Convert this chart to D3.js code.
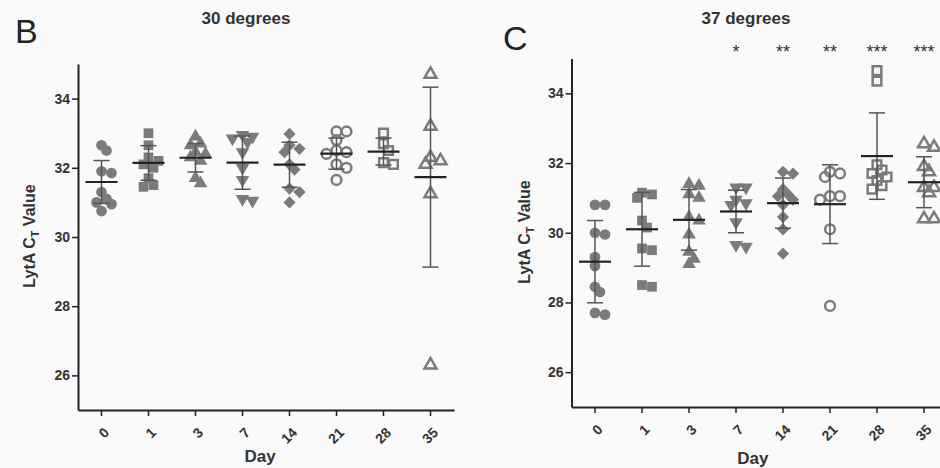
<!DOCTYPE html>
<html>
<head>
<meta charset="utf-8">
<script src="https://cdn.jsdelivr.net/npm/d3@7"></script>
<style>
  body { margin: 0; background: #fafafa; }
  svg { display: block; font-family: "Liberation Sans", Arial, sans-serif; }
</style>
</head>
<body>
<svg id="chart"></svg>
<script>
// values
const days = ["0", "1", "3", "7", "14", "21", "28", "35"];

// 30 degrees, CT values per day
const ct30 = [
  [32.65, 32.5, 31.9, 31.85, 31.3, 31.1, 31.0, 30.95, 30.75],
  [33.0, 32.65, 32.3, 32.2, 32.1, 32.0, 31.7, 31.5, 31.45],
  [32.9, 32.7, 32.65, 32.45, 32.4, 32.3, 32.2, 31.7, 31.55],
  [32.95, 32.9, 32.85, 32.75, 32.45, 32.0, 31.65, 31.1, 31.05],
  [32.98, 32.65, 32.55, 32.45, 32.1, 31.95, 31.4, 31.3, 31.0],
  [33.05, 33.05, 32.8, 32.5, 32.45, 32.4, 32.1, 32.0, 31.65],
  [33.0, 32.7, 32.5, 32.15, 32.1],
  [34.7, 33.2, 32.3, 32.2, 32.1, 31.25, 26.3]
];
const mean30 = [31.59, 32.14, 32.29, 32.15, 32.09, 32.41, 32.47, 31.73];
const sd30 = [0.62, 0.5, 0.41, 0.77, 0.65, 0.45, 0.39, 2.6];

// 37 degrees
const ct37 = [
  [30.8, 30.8, 30.0, 29.95, 29.3, 29.05, 28.45, 28.3, 27.7, 27.65],
  [31.15, 31.1, 31.0, 30.35, 30.15, 29.55, 29.5, 28.5, 28.45],
  [31.4, 31.35, 31.1, 31.0, 30.45, 30.35, 29.95, 29.45, 29.25, 29.1],
  [31.3, 31.3, 30.95, 30.85, 30.8, 30.3, 29.65, 29.6],
  [31.75, 31.7, 31.25, 31.1, 31.05, 30.95, 30.8, 30.45, 30.1, 29.4],
  [31.75, 31.7, 31.6, 31.05, 31.05, 30.95, 30.1, 27.9],
  [34.65, 34.35, 31.95, 31.8, 31.7, 31.6, 31.5, 31.35, 31.25],
  [32.55, 32.45, 31.9, 31.75, 31.3, 31.3, 31.15, 30.4, 30.4]
];
const mean37 = [29.17, 30.1, 30.37, 30.61, 30.85, 30.82, 32.2, 31.45];
const sd37 = [1.18, 1.06, 0.87, 0.61, 0.72, 1.13, 1.24, 0.73];
const stars37 = ["", "", "", "*", "**", "**", "***", "***"];

const yTicks = [26, 28, 30, 32, 34];

const width = 940, height = 468;
const grey = "#7b7b7b";

const svg = d3.select("#chart").attr("width", width).attr("height", height);

// marker per day column
const shapes = [
  { type: d3.symbolCircle, fill: true, rot: 0, size: 90 },
  { type: d3.symbolSquare, fill: true, rot: 0, size: 95 },
  { type: d3.symbolTriangle, fill: true, rot: 0, size: 80 },
  { type: d3.symbolTriangle, fill: true, rot: 180, size: 80 },
  { type: d3.symbolSquare, fill: true, rot: 45, size: 75 },
  { type: d3.symbolCircle, fill: false, rot: 0, size: 75 },
  { type: d3.symbolSquare, fill: false, rot: 0, size: 75 },
  { type: d3.symbolTriangle, fill: false, rot: 0, size: 62 }
];

// simple spread so points with close values don't sit on top of each other
function spread(vals, y, step, minD) {
  const order = vals.map((v, i) => i).sort((a, b) => vals[b] - vals[a]);
  const placed = [];
  const off = new Array(vals.length).fill(0);
  order.forEach(i => {
    const py = y(vals[i]);
    const cands = [0, step, -step, 2 * step, -2 * step, 3 * step, -3 * step];
    for (const c of cands) {
      const ok = placed.every(p => Math.hypot(p.x - c, p.y - py) >= minD);
      if (ok) { off[i] = c; placed.push({ x: c, y: py }); break; }
    }
  });
  return off;
}

function drawPanel(o) {
  const g = svg.append("g");
  const x = d3.scaleBand().domain(days).range([o.x0, o.x1]);
  const y = d3.scaleLinear().domain([25, 35]).range([o.yBot, o.yTop]);

  // y axis
  const ya = g.append("g")
    .attr("transform", `translate(${o.x0},0)`)
    .call(d3.axisLeft(y).tickValues(yTicks).tickSize(6).tickSizeOuter(0).tickPadding(2));
  ya.select(".domain").attr("stroke", "#222").attr("stroke-width", 2);
  ya.selectAll(".tick line").attr("stroke", "#222").attr("stroke-width", 1.5);
  ya.selectAll(".tick text")
    .attr("fill", "#333")
    .style("font-size", "14px")
    .style("font-weight", "bold");

  // x axis
  const xa = g.append("g")
    .attr("transform", `translate(0,${o.yBot})`)
    .call(d3.axisBottom(x).tickSize(6).tickSizeOuter(0));
  xa.select(".domain").attr("stroke", "#222").attr("stroke-width", 2);
  xa.selectAll(".tick line").attr("stroke", "#222").attr("stroke-width", 1.5);
  xa.selectAll(".tick text")
    .attr("fill", "#333")
    .style("font-size", "14px")
    .style("font-weight", "bold")
    .attr("text-anchor", "end")
    .attr("transform", "translate(5,20) rotate(-45)")
    .attr("dy", "0.35em")
    .attr("x", 0)
    .attr("y", 0);

  // axis titles
  g.append("text")
    .attr("x", (o.x0 + Math.min(o.x1, width)) / 2 + o.dayShift)
    .attr("y", o.dayY)
    .attr("text-anchor", "middle")
    .style("font-size", "17px")
    .style("font-weight", "bold")
    .attr("fill", "#333")
    .text("Day");

  const yl = g.append("text")
    .attr("transform", `translate(${o.ylabX},${o.ylabY}) rotate(-90)`)
    .attr("text-anchor", "middle")
    .style("font-size", "16px")
    .style("font-weight", "bold")
    .attr("fill", "#333");
  yl.append("tspan").text("LytA C");
  yl.append("tspan").attr("dy", 4).style("font-size", "11px").text("T");
  yl.append("tspan").attr("dy", -4).text(" Value");

  // title and panel letter
  g.append("text")
    .attr("x", o.titleX).attr("y", o.titleY)
    .attr("text-anchor", "middle")
    .style("font-size", "17px")
    .style("font-weight", "bold")
    .attr("fill", "#333")
    .text(o.title);

  g.append("text")
    .attr("x", o.letterX).attr("y", o.letterY)
    .style("font-size", "34px")
    .attr("fill", "#222")
    .text(o.letter);

  // points
  o.data.forEach((vals, di) => {
    const sh = shapes[di];
    const cx = x(days[di]) + x.bandwidth() / 2;
    const offs = spread(vals, y, 5, 7);
    const sym = d3.symbol().type(sh.type).size(sh.size);
    g.selectAll(null)
      .data(vals)
      .enter()
      .append("path")
      .attr("d", sym)
      .attr("transform", (d, i) => `translate(${cx + offs[i]},${y(d)}) rotate(${sh.rot})`)
      .attr("fill", sh.fill ? grey : "none")
      .attr("stroke", grey)
      .attr("stroke-width", sh.fill ? 0 : 2.5);
  });

  // error bars (SD) and means
  days.forEach((dname, di) => {
    const cx = x(dname) + x.bandwidth() / 2;
    const m = o.mean[di], s = o.sd[di];
    g.append("line")
      .attr("x1", cx).attr("x2", cx)
      .attr("y1", y(m + s)).attr("y2", y(m - s))
      .attr("stroke", "#555").attr("stroke-width", 1.5);
    [m + s, m - s].forEach(v => {
      g.append("line")
        .attr("x1", cx - 8).attr("x2", cx + 8)
        .attr("y1", y(v)).attr("y2", y(v))
        .attr("stroke", "#555").attr("stroke-width", 1.5);
    });
    g.append("line")
      .attr("x1", cx - 16).attr("x2", cx + 16)
      .attr("y1", y(m)).attr("y2", y(m))
      .attr("stroke", "#222").attr("stroke-width", 2.2);
  });

  // significance stars
  if (o.stars) {
    g.selectAll(null)
      .data(o.stars)
      .enter()
      .append("text")
      .attr("x", (d, i) => x(days[i]) + x.bandwidth() / 2)
      .attr("y", 58)
      .attr("text-anchor", "middle")
      .style("font-size", "18px")
      .attr("fill", "#333")
      .text(d => d);
  }
}

drawPanel({
  x0: 78, x1: 454, yTop: 64, yBot: 410,
  data: ct30, mean: mean30, sd: sd30,
  title: "30 degrees", titleX: 246, titleY: 24,
  letter: "B", letterX: 15, letterY: 43,
  ylabX: 35, ylabY: 236, dayY: 462, dayShift: -6
});

drawPanel({
  x0: 571.5, x1: 947.5, yTop: 58.5, yBot: 407,
  data: ct37, mean: mean37, sd: sd37, stars: stars37,
  title: "37 degrees", titleX: 746, titleY: 24,
  letter: "C", letterX: 503, letterY: 50,
  ylabX: 530, ylabY: 232, dayY: 464, dayShift: -3
});
</script>
</body>
</html>
